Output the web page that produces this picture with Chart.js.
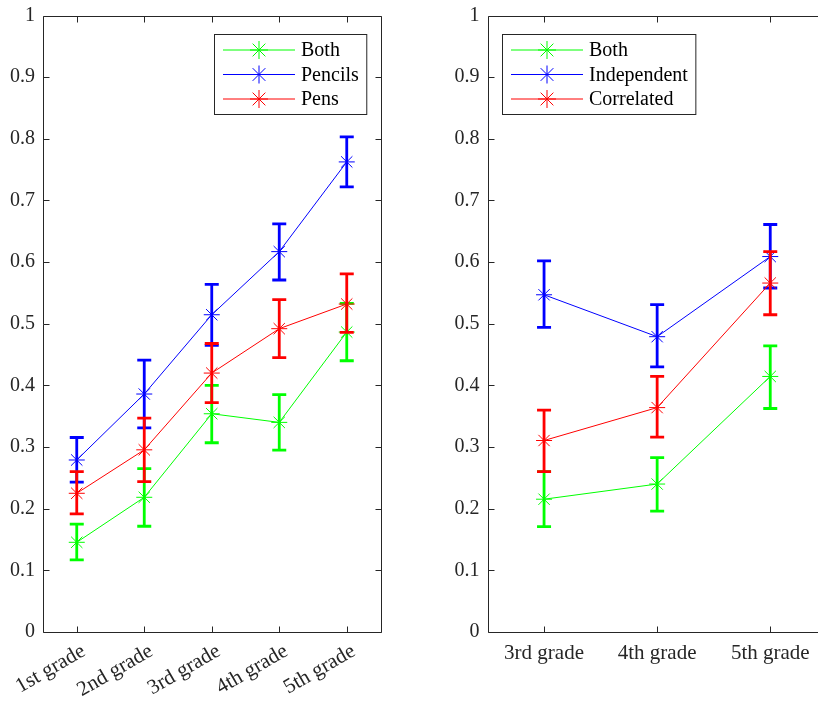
<!DOCTYPE html>
<html>
<head>
<meta charset="utf-8">
<script src="https://cdn.jsdelivr.net/npm/chart.js@4.4.1/dist/chart.umd.min.js"></script>
<style>
html,body{margin:0;padding:0;background:#fff;overflow:hidden;width:818px;height:702px;}
#wrap{position:relative;width:840px;height:702px;}
canvas{position:absolute;top:0;}
</style>
</head>
<body>
<div id="wrap">
<canvas id="c1" width="420" height="702" style="left:0;width:420px;height:702px"></canvas>
<canvas id="c2" width="410" height="702" style="left:430px;width:410px;height:702px"></canvas>
</div>
<script>
// ---- Data ----
const leftCategories = ['1st grade','2nd grade','3rd grade','4th grade','5th grade'];
const leftBoth      = [0.1455, 0.2185, 0.354, 0.340, 0.4865];
const leftBothLow   = [0.117, 0.1715, 0.307, 0.295, 0.440];
const leftBothHigh  = [0.175, 0.265, 0.400, 0.385, 0.533];
const leftPencils     = [0.279, 0.386, 0.5146, 0.617, 0.7625];
const leftPencilsLow  = [0.243, 0.331, 0.465, 0.571, 0.722];
const leftPencilsHigh = [0.3155, 0.441, 0.564, 0.662, 0.803];
const leftPens     = [0.225, 0.2955, 0.420, 0.492, 0.532];
const leftPensLow  = [0.1915, 0.244, 0.372, 0.445, 0.486];
const leftPensHigh = [0.260, 0.347, 0.468, 0.539, 0.581];

const rightCategories = ['3rd grade','4th grade','5th grade'];
const rightBoth      = [0.2154, 0.240, 0.4145];
const rightBothLow   = [0.171, 0.196, 0.3625];
const rightBothHigh  = [0.260, 0.283, 0.464];
const rightIndependent     = [0.547, 0.479, 0.609];
const rightIndependentLow  = [0.494, 0.430, 0.558];
const rightIndependentHigh = [0.602, 0.531, 0.661];
const rightCorrelated     = [0.3106, 0.364, 0.566];
const rightCorrelatedLow  = [0.260, 0.316, 0.5146];
const rightCorrelatedHigh = [0.360, 0.4145, 0.617];

const yTickValues = [0,0.1,0.2,0.3,0.4,0.5,0.6,0.7,0.8,0.9,1];

// ---- Style ----
const GREEN = '#00ff00', BLUE = '#0000ff', RED = '#ff0000';
const AXIS = '#262626';
const FONT = '"Liberation Serif", "Times New Roman", serif';

function series(label, color, values, low, high, order) {
  return {
    label, data: values, errLow: low, errHigh: high,
    borderColor: color, backgroundColor: color,
    borderWidth: 1, tension: 0, fill: false,
    pointStyle: 'star', pointRadius: 8, pointBorderWidth: 1,
    pointBorderColor: color, pointBackgroundColor: color,
    order
  };
}

const errorBars = {
  id: 'errorBars',
  beforeDatasetDraw(chart, args) {
    const ds = chart.data.datasets[args.index];
    const ys = chart.scales.y;
    const ctx = chart.ctx;
    ctx.save();
    ctx.strokeStyle = ds.borderColor;
    ctx.lineWidth = 2.8;
    ctx.lineCap = 'butt';
    args.meta.data.forEach((pt, i) => {
      const x = pt.x;
      const yl = ys.getPixelForValue(ds.errLow[i]);
      const yh = ys.getPixelForValue(ds.errHigh[i]);
      ctx.beginPath();
      ctx.moveTo(x, yl); ctx.lineTo(x, yh);
      ctx.moveTo(x - 7, yl); ctx.lineTo(x + 7, yl);
      ctx.moveTo(x - 7, yh); ctx.lineTo(x + 7, yh);
      ctx.stroke();
    });
    ctx.restore();
  }
};

const boxAxes = {
  id: 'boxAxes',
  afterDraw(chart) {
    const ctx = chart.ctx, a = chart.chartArea;
    const xs = chart.scales.x, ys = chart.scales.y;
    const L = Math.round(a.left) + 0.5, R = Math.round(a.right) + 0.5;
    const T = Math.round(a.top) + 0.5, B = Math.round(a.bottom) + 0.5;
    ctx.save();
    ctx.strokeStyle = AXIS;
    ctx.lineWidth = 1;
    ctx.beginPath();
    ctx.rect(L, T, R - L, B - T);
    const tl = 6;
    xs.ticks.forEach((t, i) => {
      const x = Math.round(xs.getPixelForTick(i)) + 0.5;
      ctx.moveTo(x, B); ctx.lineTo(x, B - tl);
      ctx.moveTo(x, T); ctx.lineTo(x, T + tl);
    });
    ys.ticks.forEach((t, i) => {
      const y = Math.round(ys.getPixelForTick(i)) + 0.5;
      ctx.moveTo(L, y); ctx.lineTo(L + tl, y);
      ctx.moveTo(R, y); ctx.lineTo(R - tl, y);
    });
    ctx.stroke();
    ctx.restore();
  }
};

const boxLegend = {
  id: 'boxLegend',
  afterDraw(chart, args, opts) {
    const ctx = chart.ctx, a = chart.chartArea;
    const dss = chart.data.datasets;
    ctx.save();
    ctx.font = '20px ' + FONT;
    let tw = 0;
    dss.forEach(d => { tw = Math.max(tw, ctx.measureText(d.label).width); });
    const padL = 8.5, lineLen = 72, gap = 6, padR = 8;
    const w = padL + lineLen + gap + tw + padR;
    const h = 80;
    const top = Math.round(a.top + 18) + 0.5;
    let left;
    if (opts.side === 'right') left = Math.round(a.right - 14 - w) + 0.5;
    else left = Math.round(a.left + 14) + 0.5;
    ctx.fillStyle = '#fff';
    ctx.fillRect(left, top, w, h);
    ctx.strokeStyle = AXIS;
    ctx.lineWidth = 1;
    ctx.strokeRect(left, top, w, h);
    dss.forEach((d, i) => {
      const y = top + 15.5 + i * 24.5;
      const x0 = left + padL, x1 = x0 + lineLen, xm = (x0 + x1) / 2;
      ctx.strokeStyle = d.borderColor;
      ctx.lineWidth = 1;
      ctx.beginPath(); ctx.moveTo(x0, y); ctx.lineTo(x1, y); ctx.stroke();
      Chart.helpers.drawPoint(ctx, {pointStyle: 'star', radius: 9, borderWidth: 1}, xm, y);
      ctx.fillStyle = '#000';
      ctx.textAlign = 'left';
      ctx.textBaseline = 'middle';
      ctx.fillText(d.label, x1 + gap, y + 1);
    });
    ctx.restore();
  }
};

function makeOptions(yWidth, padRight, rotation, legendSide) {
  return {
    responsive: false,
    animation: false,
    devicePixelRatio: 1,
    layout: { padding: { left: 0, top: 15.5, right: padRight, bottom: 0 }, autoPadding: false },
    plugins: {
      legend: { display: false },
      tooltip: { enabled: false },
      boxLegend: { side: legendSide }
    },
    scales: {
      x: {
        type: 'category',
        offset: true,
        grid: { display: false, drawTicks: false },
        border: { display: false },
        ticks: {
          color: AXIS,
          font: { family: FONT, size: 21 },
          padding: rotation ? 7 : 9,
          labelOffset: rotation ? 7 : 0,
          minRotation: rotation, maxRotation: rotation,
          autoSkip: false
        },
        afterFit(s) { s.height = 70; s.paddingLeft = 0; s.paddingRight = 0; }
      },
      y: {
        type: 'linear',
        min: 0, max: 1,
        afterBuildTicks(s) { s.ticks = yTickValues.map(v => ({ value: v })); },
        grid: { display: false, drawTicks: false },
        border: { display: false },
        ticks: {
          color: AXIS,
          font: { family: FONT, size: 20 },
          padding: 8,
          callback: v => String(Number(v.toFixed(1)))
        },
        afterFit(s) { s.width = yWidth; s.paddingTop = 0; s.paddingBottom = 0; }
      }
    }
  };
}

Chart.defaults.font.family = FONT;

new Chart(document.getElementById('c1'), {
  type: 'line',
  data: {
    labels: leftCategories,
    datasets: [
      series('Both', GREEN, leftBoth, leftBothLow, leftBothHigh, 2),
      series('Pencils', BLUE, leftPencils, leftPencilsLow, leftPencilsHigh, 1),
      series('Pens', RED, leftPens, leftPensLow, leftPensHigh, 0)
    ]
  },
  options: makeOptions(43, 39.5, 30, 'right'),
  plugins: [errorBars, boxAxes, boxLegend]
});

new Chart(document.getElementById('c2'), {
  type: 'line',
  data: {
    labels: rightCategories,
    datasets: [
      series('Both', GREEN, rightBoth, rightBothLow, rightBothHigh, 2),
      series('Independent', BLUE, rightIndependent, rightIndependentLow, rightIndependentHigh, 1),
      series('Correlated', RED, rightCorrelated, rightCorrelatedLow, rightCorrelatedHigh, 0)
    ]
  },
  options: makeOptions(57.5, 13.2, 0, 'left'),
  plugins: [errorBars, boxAxes, boxLegend]
});
</script>
</body>
</html>
